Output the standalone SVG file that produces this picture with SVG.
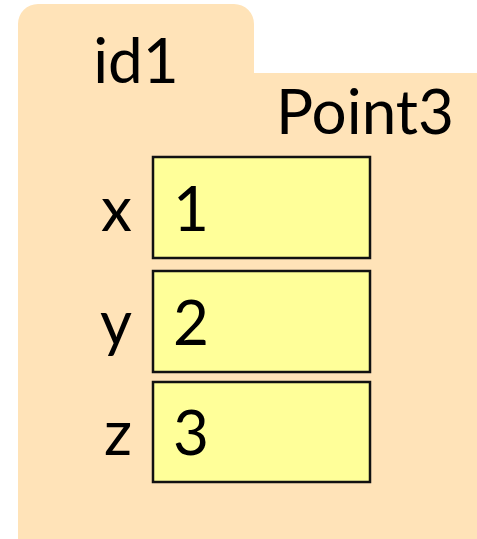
<svg xmlns="http://www.w3.org/2000/svg" width="477" height="539" viewBox="0 0 477 539">
<style>
text{font-family:Lato,"Noto Sans",sans-serif;font-size:62px;fill:#000}
.box{fill:#FFFF99;stroke:#111;stroke-width:2.5}
.lbl{text-anchor:end}
</style>
<rect width="477" height="539" fill="#fff"/>
<g id="obj">
<path d="M18,539 V24 A20,20 0 0 1 38,4 H234 A20,20 0 0 1 254,24 V73 H477 V539 Z" fill="#FFE3B8"/>
<text x="136" y="83" text-anchor="middle">id1</text>
<text x="454" y="134" text-anchor="end">Point3</text>
</g>
<g id="field-x">
<rect class="box" x="153" y="157" width="217" height="101"/>
<text class="lbl" x="132" y="231">x</text>
<text x="173" y="231">1</text>
</g>
<g id="field-y">
<rect class="box" x="153" y="271" width="217" height="101"/>
<text class="lbl" x="132" y="345">y</text>
<text x="173" y="345">2</text>
</g>
<g id="field-z">
<rect class="box" x="153" y="382" width="217" height="100"/>
<text class="lbl" x="132" y="455">z</text>
<text x="173" y="455">3</text>
</g>
<g id="connectors"/>
</svg>
